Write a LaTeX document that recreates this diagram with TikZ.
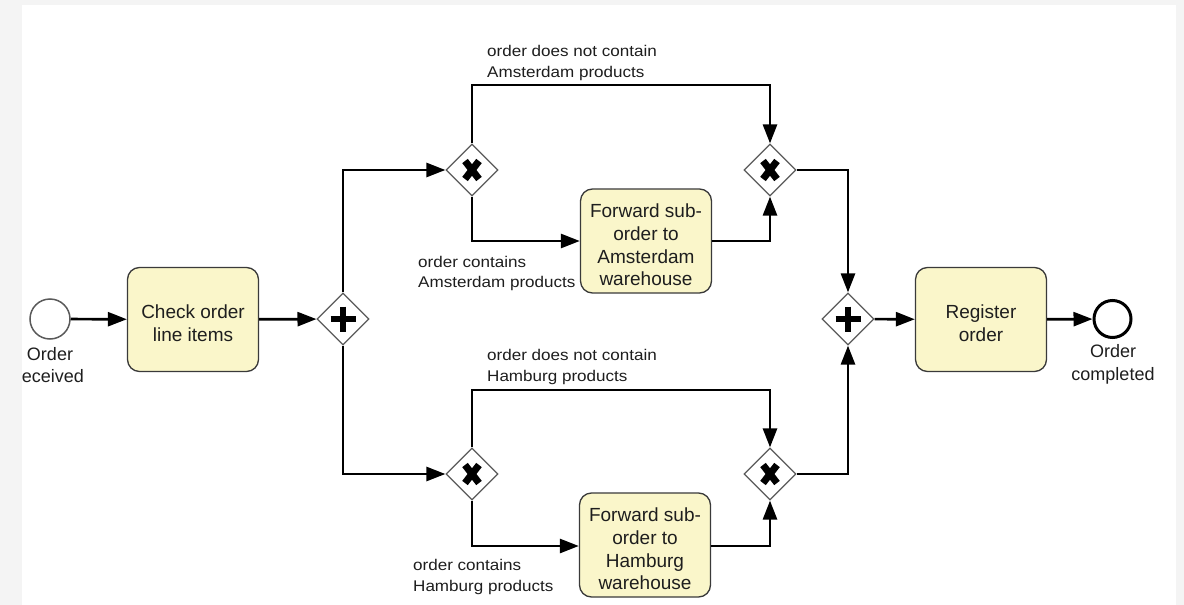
\documentclass[tikz,border=0pt]{standalone}
\usepackage{fontspec}
\setmainfont{Liberation Sans}
\newfontfamily\condlabelfont[FakeStretch=1.1]{Liberation Sans}
\usetikzlibrary{arrows.meta,shapes.geometric}

\definecolor{pagebg}{HTML}{F4F4F4}
\definecolor{taskfill}{RGB}{250,246,202}
\definecolor{taskline}{HTML}{3A3A3A}
\definecolor{gwline}{HTML}{5A5A5A}
\definecolor{txt}{HTML}{1E1E1E}

\tikzset{
  task/.style={rectangle, rounded corners=12pt, draw=taskline, line width=1.3pt,
    fill=taskfill, minimum width=131pt, minimum height=104pt, inner sep=0pt},
  tasktext/.style={align=center, inner sep=0pt, text=txt,
    font=\fontsize{19}{22.7}\selectfont},
  gw/.style={diamond, draw=gwline, line width=1.2pt, fill=white,
    minimum width=52pt, minimum height=52pt, inner sep=0pt},
  xorgw/.style={gw, path picture={
    \draw[line width=7pt, black] (path picture bounding box.center) ++(-7,-9) -- ++(14,18);
    \draw[line width=7pt, black] (path picture bounding box.center) ++(7,-9) -- ++(-14,18);}},
  andgw/.style={gw, path picture={
    \draw[line width=6.5pt, black] (path picture bounding box.center) ++(-12.5,0) -- ++(25,0);
    \draw[line width=6.5pt, black] (path picture bounding box.center) ++(0,-12.5) -- ++(0,25);}},
  startev/.style={circle, draw=gwline, line width=1.5pt, fill=white,
    minimum size=40pt, inner sep=0pt},
  endev/.style={circle, draw=black, line width=3pt, fill=white,
    minimum size=37pt, inner sep=0pt},
  evlabel/.style={align=center, inner sep=0pt, text=txt,
    font=\fontsize{18}{22.5}\selectfont},
  condlabel/.style={align=left, anchor=west, inner sep=0pt, text=txt,
    font=\condlabelfont\fontsize{15.5}{20.5}\selectfont},
  flow/.style={draw=black, line width=2.7pt,
    -{Triangle[length=19pt,width=14pt]}},
}

% a BPMN task: the rounded box and its caption, set slightly low
\newcommand\bpmntask[3]{%
  \node[task] (#1) at (#2) {};
  \node[tasktext] (#1-text) at ([yshift=-4pt]#1.center) {#3};}

\begin{document}
\begin{tikzpicture}[x=1pt,y=-1pt]
  % page and white sheet
  \fill[pagebg] (0,0) rectangle (1184,605);
  \fill[white] (22,5) rectangle (1176,605);
  \useasboundingbox (0,0) rectangle (1184,605);

  \begin{scope}
    \clip (22,5) rectangle (1176,605);

    % events, tasks, gateways
    \node[startev] (start) at (50,319) {};
    \node[evlabel] (startlbl) at (50,365) {Order\\received};
    \bpmntask{check}{193,319.5}{Check order\\line items}
    \node[andgw] (split) at (343,319) {};

    \node[xorgw] (xams) at (472,170) {};
    \bpmntask{fams}{646,241}{Forward sub-\\order to\\Amsterdam\\warehouse}
    \node[xorgw] (jams) at (770,170) {};

    \node[xorgw] (xham) at (472,474) {};
    \bpmntask{fham}{645,545}{Forward sub-\\order to\\Hamburg\\warehouse}
    \node[xorgw] (jham) at (770,474) {};

    \node[andgw] (join) at (848,319) {};
    \bpmntask{reg}{981,319.5}{Register\\order}
    \node[endev] (finish) at (1112.5,319) {};
    \node[evlabel] (endlbl) at (1113,364.5) {Order\\completed};

    % bend points
    \coordinate (splitup) at (343,170);
    \coordinate (splitdn) at (343,474);
    \coordinate (amsTopL) at (472,85);
    \coordinate (amsTopR) at (770,85);
    \coordinate (amsBotL) at (472,241);
    \coordinate (amsBotR) at (770,241);
    \coordinate (hamTopL) at (472,390);
    \coordinate (hamTopR) at (770,390);
    \coordinate (hamBotL) at (472,546);
    \coordinate (hamBotR) at (770,546);
    \coordinate (joinup) at (848,170);
    \coordinate (joindn) at (848,474);

    % sequence flows
    \draw[flow] (start) -- (check);
    \draw[flow] (check) -- (split);
    \draw[flow] (split.north) -- (splitup) -- (xams.west);
    \draw[flow] (split.south) -- (splitdn) -- (xham.west);

    \draw[flow] (xams.north) -- (amsTopL) -- (amsTopR) -- (jams.north);
    \draw[flow] (xams.south) -- (amsBotL) -- (fams.west);
    \draw[flow] (fams.east) -- (amsBotR) -- (jams.south);

    \draw[flow] (xham.north) -- (hamTopL) -- (hamTopR) -- (jham.north);
    \draw[flow] (xham.south) -- (hamBotL) -- (fham.west |- hamBotL);
    \draw[flow] (fham.east |- hamBotR) -- (hamBotR) -- (jham.south);

    \draw[flow] (jams.east) -- (joinup) -- (join.north);
    \draw[flow] (jham.east) -- (joindn) -- (join.south);
    \draw[flow] (join) -- (reg);
    \draw[flow] (reg) -- (finish);

    % conditions
    \node[condlabel] (c1) at (487,63) {order does not contain\\Amsterdam products};
    \node[condlabel] (c2) at (418,273.5) {order contains\\Amsterdam products};
    \node[condlabel] (c3) at (487,367) {order does not contain\\Hamburg products};
    \node[condlabel] (c4) at (413,577) {order contains\\Hamburg products};
  \end{scope}
\end{tikzpicture}
\end{document}
